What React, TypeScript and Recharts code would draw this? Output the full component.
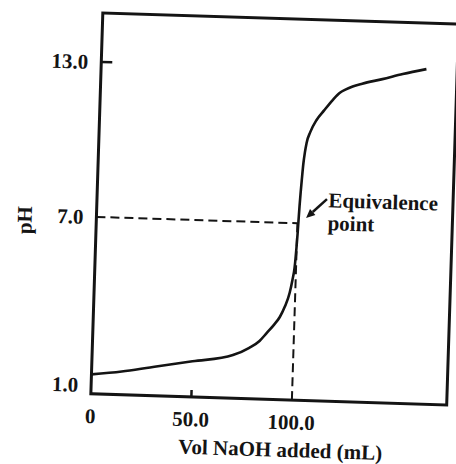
import React from 'react';
import {
  LineChart,
  Line,
  XAxis,
  YAxis,
  ReferenceLine,
  ReferenceArea,
  ReferenceDot,
  Label,
} from 'recharts';

// ---- data ----
const volumeMl = [
  0, 15, 29, 50, 70, 78, 83, 86.4, 90, 92.7,
  95, 97.2, 98.4, 99.3, 99.9, 100.25, 100.5, 100.8, 101.1, 101.5,
  102, 102.6, 103.3, 105, 107.9, 111.5, 115.6, 118.9, 122, 125.3,
  130, 140, 150, 161.7,
];
const phValues = [
  0.9, 1.05, 1.24, 1.53, 1.82, 2.12, 2.4, 2.71, 3.05, 3.35,
  3.75, 4.29, 4.8, 5.3, 6.05, 6.62, 7.12, 7.7, 8.17, 8.7,
  9.3, 9.75, 10.12, 10.55, 11.02, 11.4, 11.81, 12.09, 12.24, 12.36,
  12.48, 12.68, 12.9, 13.12,
];

const xTicks = [0, 50, 100];
const xTickLabels = ['0', '50.0', '100.0'];
const yTicks = [1, 7, 13];
const yTickLabels = ['1.0', '7.0', '13.0'];
const xDomain: [number, number] = [0, 177];
const yDomain: [number, number] = [0.15, 14.9];

const xTitle = 'Vol NaOH added (mL)';
const yTitle = 'pH';

const equivalence = { vol: 100, ph: 7 };
const annotationLines = ['Equivalence', 'point'];
const annotationAnchor = { vol: 115, ph: 7.66 };
const arrowTail = { vol: 114.3, ph: 7.97 };
const arrowHead = { vol: 104.2, ph: 7.21 };

const data = volumeMl.map((v, i) => ({ vol: v, ph: phValues[i] }));

// ---- styles ----
const INK = '#141414';
const fontStyle: React.CSSProperties = {
  fontFamily: "'Liberation Serif', 'Times New Roman', serif",
  fontWeight: 700,
  fontSize: 21,
  fill: INK,
};
const Y_TICK_MARGIN = 13;

function YTick(props: any) {
  const { x, y, payload } = props;
  const i = yTicks.indexOf(payload.value);
  const axisX = x + Y_TICK_MARGIN;
  return (
    <g>
      <text x={x} y={y + (i === 0 ? 13 : 0)} dy="0.35em" textAnchor="end" style={fontStyle}>
        {yTickLabels[i]}
      </text>
      {i === yTicks.length - 1 && (
        <line x1={axisX} x2={axisX + 11} y1={y} y2={y} stroke={INK} strokeWidth={2.5} />
      )}
    </g>
  );
}

function XTick(props: any) {
  const { x, y, payload } = props;
  const i = xTicks.indexOf(payload.value);
  return (
    <g>
      <text x={x} y={y + 22} dy="0.35em" textAnchor="middle" style={fontStyle}>
        {xTickLabels[i]}
      </text>
      {i === 1 && <line x1={x} x2={x} y1={y} y2={y - 7} stroke={INK} strokeWidth={2.5} />}
    </g>
  );
}

function XTitle(props: any) {
  const vb = props.viewBox || { x: 0, y: 0, width: 0, height: 0 };
  return (
    <text x={vb.x + vb.width / 2 + 13} y={vb.y + 57} textAnchor="middle" style={fontStyle}>
      {xTitle}
    </text>
  );
}

function YTitle(props: any) {
  const vb = props.viewBox || { x: 0, y: 0, width: 0, height: 0 };
  const cx = vb.x + 24;
  const cy = vb.y + vb.height / 2 + 19;
  return (
    <text
      x={cx}
      y={cy}
      dy="0.35em"
      textAnchor="middle"
      transform={`rotate(-90 ${cx} ${cy})`}
      style={fontStyle}
    >
      {yTitle}
    </text>
  );
}

function ArrowShape(p: any) {
  const { x1, y1, x2, y2 } = p;
  const ang = Math.atan2(y2 - y1, x2 - x1);
  const len = 9;
  const w = 4;
  const bx = x2 - len * Math.cos(ang);
  const by = y2 - len * Math.sin(ang);
  const pts = [
    `${x2},${y2}`,
    `${bx + w * Math.sin(ang)},${by - w * Math.cos(ang)}`,
    `${bx - w * Math.sin(ang)},${by + w * Math.cos(ang)}`,
  ].join(' ');
  return (
    <g>
      <line x1={x1} y1={y1} x2={bx} y2={by} stroke={INK} strokeWidth={2.5} />
      <polygon points={pts} fill={INK} />
    </g>
  );
}

function AnnotationText(p: any) {
  const { cx, cy } = p;
  return (
    <text x={cx} y={cy} style={fontStyle}>
      <tspan x={cx} dy={0}>{annotationLines[0]}</tspan>
      <tspan x={cx} dy={23}>{annotationLines[1]}</tspan>
    </text>
  );
}

export default function App() {
  return (
    <div
      style={{
        position: 'absolute',
        left: 0,
        top: 0,
        width: 456,
        height: 464,
        overflow: 'hidden',
        background: '#fff',
      }}
    >
      <div style={{ width: 456, height: 464, transform: 'rotate(1.8deg)', transformOrigin: '228px 232px' }}>
        <LineChart width={456} height={464} data={data} margin={{ top: 17, right: 4, bottom: 0, left: 0 }}>
          <XAxis
            dataKey="vol"
            type="number"
            domain={xDomain}
            ticks={xTicks}
            interval={0}
            allowDataOverflow
            axisLine={false}
            tickLine={false}
            tickSize={0}
            tickMargin={0}
            height={66}
            tick={<XTick />}
          >
            <Label content={<XTitle />} />
          </XAxis>
          <YAxis
            type="number"
            domain={yDomain}
            ticks={yTicks}
            interval={0}
            allowDataOverflow
            axisLine={false}
            tickLine={false}
            tickSize={0}
            tickMargin={Y_TICK_MARGIN}
            width={96}
            tick={<YTick />}
          >
            <Label content={<YTitle />} />
          </YAxis>
          <ReferenceArea
            x1={xDomain[0]}
            x2={xDomain[1]}
            y1={yDomain[0]}
            y2={yDomain[1]}
            fill="none"
            fillOpacity={0}
            stroke={INK}
            strokeWidth={3}
            ifOverflow="visible"
          />
          <ReferenceLine
            segment={[
              { x: xDomain[0], y: equivalence.ph },
              { x: equivalence.vol, y: equivalence.ph },
            ]}
            stroke={INK}
            strokeWidth={2}
            strokeDasharray="9 5"
            ifOverflow="visible"
          />
          <ReferenceLine
            segment={[
              { x: equivalence.vol, y: equivalence.ph },
              { x: equivalence.vol, y: yDomain[0] },
            ]}
            stroke={INK}
            strokeWidth={2}
            strokeDasharray="9 5"
            ifOverflow="visible"
          />
          <ReferenceLine
            segment={[
              { x: arrowTail.vol, y: arrowTail.ph },
              { x: arrowHead.vol, y: arrowHead.ph },
            ]}
            stroke={INK}
            ifOverflow="visible"
            shape={ArrowShape}
          />
          <ReferenceDot
            x={annotationAnchor.vol}
            y={annotationAnchor.ph}
            r={0}
            ifOverflow="visible"
            shape={AnnotationText}
          />
          <Line
            dataKey="ph"
            type="monotone"
            stroke={INK}
            strokeWidth={2.6}
            dot={false}
            activeDot={false}
            isAnimationActive={false}
          />
        </LineChart>
      </div>
    </div>
  );
}
